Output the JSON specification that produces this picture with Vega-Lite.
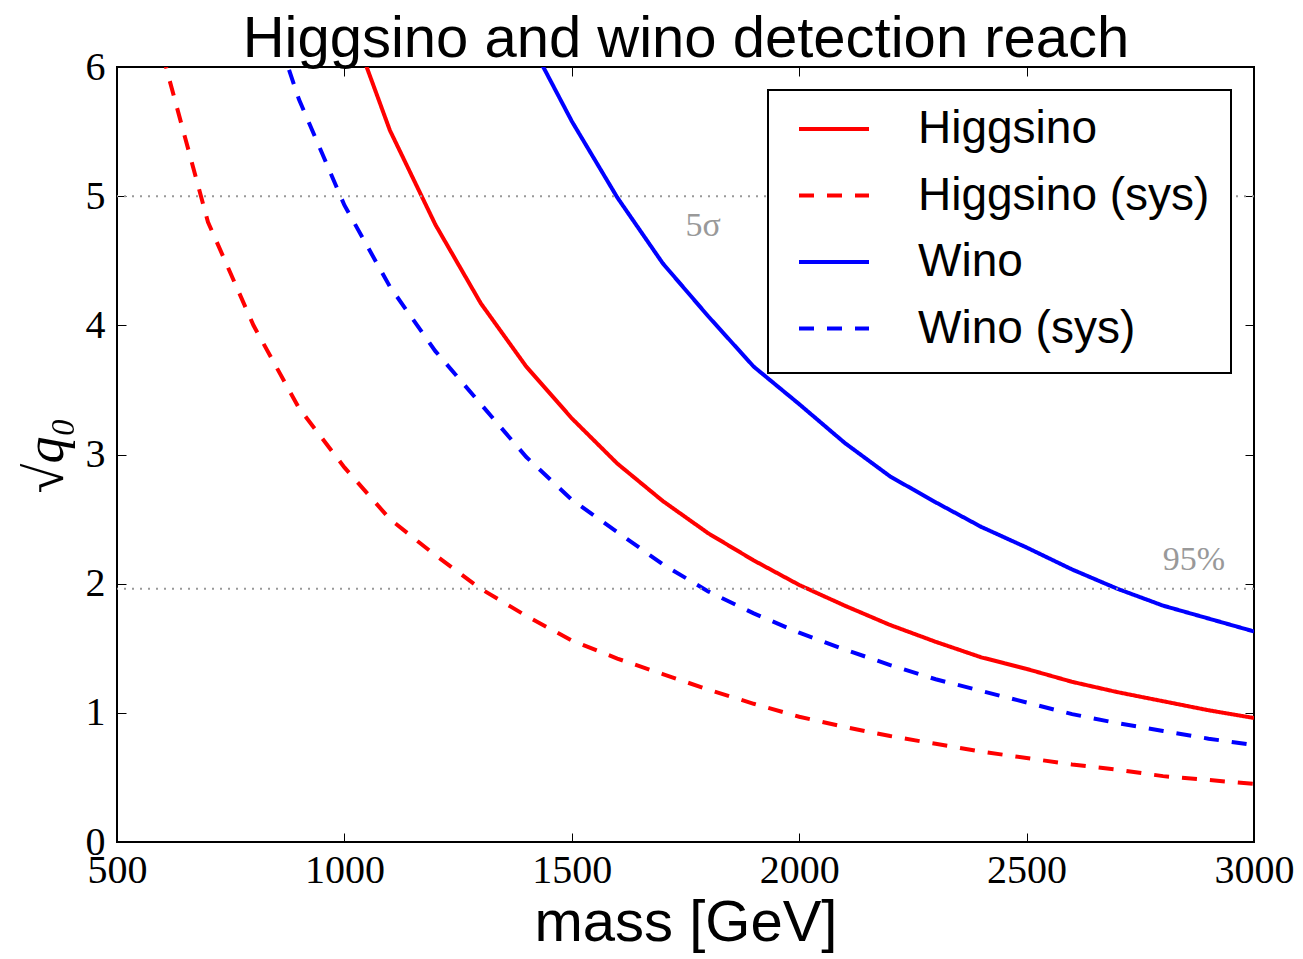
{
  "$schema": "https://vega.github.io/schema/vega-lite/v6.json",
  "width": 1137,
  "height": 775,
  "autosize": {"type": "none"},
  "padding": {"left": 117, "top": 67, "right": 49, "bottom": 117},
  "background": "white",
  "datasets": {
    "curves": [
      {"mass": 1000, "value": 6.47, "series": "Higgsino"},
      {"mass": 1100, "value": 5.51, "series": "Higgsino"},
      {"mass": 1200, "value": 4.78, "series": "Higgsino"},
      {"mass": 1300, "value": 4.17, "series": "Higgsino"},
      {"mass": 1400, "value": 3.68, "series": "Higgsino"},
      {"mass": 1500, "value": 3.28, "series": "Higgsino"},
      {"mass": 1600, "value": 2.93, "series": "Higgsino"},
      {"mass": 1700, "value": 2.64, "series": "Higgsino"},
      {"mass": 1800, "value": 2.39, "series": "Higgsino"},
      {"mass": 1900, "value": 2.18, "series": "Higgsino"},
      {"mass": 2000, "value": 1.99, "series": "Higgsino"},
      {"mass": 2100, "value": 1.83, "series": "Higgsino"},
      {"mass": 2200, "value": 1.68, "series": "Higgsino"},
      {"mass": 2300, "value": 1.55, "series": "Higgsino"},
      {"mass": 2400, "value": 1.43, "series": "Higgsino"},
      {"mass": 2500, "value": 1.34, "series": "Higgsino"},
      {"mass": 2600, "value": 1.24, "series": "Higgsino"},
      {"mass": 2700, "value": 1.16, "series": "Higgsino"},
      {"mass": 2800, "value": 1.09, "series": "Higgsino"},
      {"mass": 2900, "value": 1.02, "series": "Higgsino"},
      {"mass": 3000, "value": 0.96, "series": "Higgsino"},
      {"mass": 600, "value": 6.1, "series": "Higgsino (sys)"},
      {"mass": 700, "value": 4.8, "series": "Higgsino (sys)"},
      {"mass": 800, "value": 4.0, "series": "Higgsino (sys)"},
      {"mass": 900, "value": 3.36, "series": "Higgsino (sys)"},
      {"mass": 1000, "value": 2.9, "series": "Higgsino (sys)"},
      {"mass": 1100, "value": 2.5, "series": "Higgsino (sys)"},
      {"mass": 1200, "value": 2.22, "series": "Higgsino (sys)"},
      {"mass": 1300, "value": 1.96, "series": "Higgsino (sys)"},
      {"mass": 1400, "value": 1.75, "series": "Higgsino (sys)"},
      {"mass": 1500, "value": 1.56, "series": "Higgsino (sys)"},
      {"mass": 1600, "value": 1.42, "series": "Higgsino (sys)"},
      {"mass": 1700, "value": 1.3, "series": "Higgsino (sys)"},
      {"mass": 1800, "value": 1.18, "series": "Higgsino (sys)"},
      {"mass": 1900, "value": 1.07, "series": "Higgsino (sys)"},
      {"mass": 2000, "value": 0.97, "series": "Higgsino (sys)"},
      {"mass": 2100, "value": 0.89, "series": "Higgsino (sys)"},
      {"mass": 2200, "value": 0.82, "series": "Higgsino (sys)"},
      {"mass": 2300, "value": 0.76, "series": "Higgsino (sys)"},
      {"mass": 2400, "value": 0.7, "series": "Higgsino (sys)"},
      {"mass": 2500, "value": 0.65, "series": "Higgsino (sys)"},
      {"mass": 2600, "value": 0.6, "series": "Higgsino (sys)"},
      {"mass": 2700, "value": 0.56, "series": "Higgsino (sys)"},
      {"mass": 2800, "value": 0.51, "series": "Higgsino (sys)"},
      {"mass": 2900, "value": 0.48, "series": "Higgsino (sys)"},
      {"mass": 3000, "value": 0.45, "series": "Higgsino (sys)"},
      {"mass": 1400, "value": 6.25, "series": "Wino"},
      {"mass": 1500, "value": 5.58, "series": "Wino"},
      {"mass": 1600, "value": 4.99, "series": "Wino"},
      {"mass": 1700, "value": 4.48, "series": "Wino"},
      {"mass": 1800, "value": 4.07, "series": "Wino"},
      {"mass": 1900, "value": 3.68, "series": "Wino"},
      {"mass": 2000, "value": 3.39, "series": "Wino"},
      {"mass": 2100, "value": 3.09, "series": "Wino"},
      {"mass": 2200, "value": 2.83, "series": "Wino"},
      {"mass": 2300, "value": 2.63, "series": "Wino"},
      {"mass": 2400, "value": 2.44, "series": "Wino"},
      {"mass": 2500, "value": 2.28, "series": "Wino"},
      {"mass": 2600, "value": 2.11, "series": "Wino"},
      {"mass": 2700, "value": 1.96, "series": "Wino"},
      {"mass": 2800, "value": 1.83, "series": "Wino"},
      {"mass": 2900, "value": 1.73, "series": "Wino"},
      {"mass": 3000, "value": 1.63, "series": "Wino"},
      {"mass": 800, "value": 6.8, "series": "Wino (sys)"},
      {"mass": 900, "value": 5.75, "series": "Wino (sys)"},
      {"mass": 1000, "value": 4.93, "series": "Wino (sys)"},
      {"mass": 1100, "value": 4.3, "series": "Wino (sys)"},
      {"mass": 1200, "value": 3.8, "series": "Wino (sys)"},
      {"mass": 1300, "value": 3.39, "series": "Wino (sys)"},
      {"mass": 1400, "value": 2.98, "series": "Wino (sys)"},
      {"mass": 1500, "value": 2.65, "series": "Wino (sys)"},
      {"mass": 1600, "value": 2.4, "series": "Wino (sys)"},
      {"mass": 1700, "value": 2.15, "series": "Wino (sys)"},
      {"mass": 1800, "value": 1.94, "series": "Wino (sys)"},
      {"mass": 1900, "value": 1.77, "series": "Wino (sys)"},
      {"mass": 2000, "value": 1.62, "series": "Wino (sys)"},
      {"mass": 2100, "value": 1.49, "series": "Wino (sys)"},
      {"mass": 2200, "value": 1.37, "series": "Wino (sys)"},
      {"mass": 2300, "value": 1.26, "series": "Wino (sys)"},
      {"mass": 2400, "value": 1.17, "series": "Wino (sys)"},
      {"mass": 2500, "value": 1.08, "series": "Wino (sys)"},
      {"mass": 2600, "value": 0.99, "series": "Wino (sys)"},
      {"mass": 2700, "value": 0.92, "series": "Wino (sys)"},
      {"mass": 2800, "value": 0.86, "series": "Wino (sys)"},
      {"mass": 2900, "value": 0.8, "series": "Wino (sys)"},
      {"mass": 3000, "value": 0.75, "series": "Wino (sys)"}
    ],
    "thresholds": [
      {"value": 5},
      {"value": 1.96}
    ],
    "notes": [
      {"mass": 1789, "value": 4.77, "label": "5σ"},
      {"mass": 2868, "value": 2.18, "label": "95%"}
    ]
  },
  "layer": [
    {
      "data": {"name": "curves"},
      "mark": {"type": "line", "strokeWidth": 4, "clip": true},
      "encoding": {
        "x": {
          "field": "mass", "type": "quantitative",
          "scale": {"domain": [500, 3000], "nice": false, "zero": false},
          "axis": {
            "orient": "bottom",
            "values": [500, 1000, 1500, 2000, 2500, 3000],
            "format": "d",
            "title": "mass [GeV]",
            "titleX": 568.5,
            "titleY": 98,
            "titleBaseline": "alphabetic",
            "titleAlign": "center",
            "titleFont": "Liberation Sans",
            "titleFontSize": 58,
            "labelPadding": 17
          }
        },
        "y": {
          "field": "value", "type": "quantitative",
          "scale": {"domain": [0, 6], "nice": false},
          "axis": {
            "orient": "left",
            "values": [0, 1, 2, 3, 4, 5, 6],
            "title": "√q₀",
            "titleFont": "Liberation Serif",
            "titleFontStyle": "italic",
            "titleFontSize": 54,
            "titleAngle": -90,
            "titleBaseline": "alphabetic",
            "titleAlign": "center",
            "titleX": -55,
            "titleY": 388,
            "labelPadding": 21
          }
        },
        "color": {
          "field": "series", "type": "nominal",
          "scale": {
            "domain": ["Higgsino", "Higgsino (sys)", "Wino", "Wino (sys)"],
            "range": ["#ff0000", "#ff0000", "#0000ff", "#0000ff"]
          },
          "legend": {"title": " "}
        },
        "strokeDash": {
          "field": "series", "type": "nominal",
          "scale": {
            "domain": ["Higgsino", "Higgsino (sys)", "Wino", "Wino (sys)"],
            "range": [[1, 0], [15, 13], [1, 0], [15, 13]]
          },
          "legend": {"title": " "}
        }
      }
    },
    {
      "data": {"name": "thresholds"},
      "mark": {"type": "rule", "color": "#999999", "strokeWidth": 2, "strokeDash": [2, 6]},
      "encoding": {
        "y": {
          "field": "value", "type": "quantitative",
          "axis": {"orient": "right", "labels": false, "title": null, "values": [0, 1, 2, 3, 4, 5, 6]}
        }
      }
    },
    {
      "data": {"name": "notes"},
      "mark": {"type": "text", "font": "Liberation Serif", "fontSize": 34, "color": "#999999", "align": "center", "baseline": "middle"},
      "encoding": {
        "x": {
          "field": "mass", "type": "quantitative",
          "axis": {
            "orient": "top",
            "labels": false,
            "values": [500, 1000, 1500, 2000, 2500, 3000],
            "title": "Higgsino and wino detection reach",
            "titleFont": "Liberation Sans",
            "titleFontSize": 58,
            "titleX": 568.5,
            "titleY": -11,
            "titleAlign": "center",
            "titleBaseline": "alphabetic"
          }
        },
        "y": {"field": "value", "type": "quantitative", "axis": null},
        "text": {"field": "label"}
      }
    }
  ],
  "config": {
    "view": {"stroke": "black", "strokeWidth": 2},
    "axis": {
      "grid": false,
      "domain": false,
      "ticks": true,
      "tickSize": -9,
      "tickColor": "black",
      "tickWidth": 1,
      "labelFont": "Liberation Serif",
      "labelFontSize": 40,
      "labelColor": "black",
      "labelFlush": false,
      "labelOverlap": false,
      "titleColor": "black",
      "titleFontWeight": "normal"
    },
    "legend": {
      "orient": "top-right",
      "offset": 23,
      "symbolType": "stroke",
      "symbolSize": 4900,
      "symbolStrokeWidth": 4,
      "labelFont": "Liberation Sans",
      "labelFontSize": 46,
      "labelColor": "black",
      "labelOffset": 47,
      "labelLimit": 0,
      "rowPadding": 6.5,
      "padding": 2,
      "symbolOffset": 27,
      "titleOrient": "right",
      "titleAnchor": "end",
      "titleBaseline": "top",
      "titleFontSize": 19,
      "titlePadding": 20,
      "strokeColor": "black",
      "strokeWidth": 2,
      "fillColor": "white"
    }
  }
}
